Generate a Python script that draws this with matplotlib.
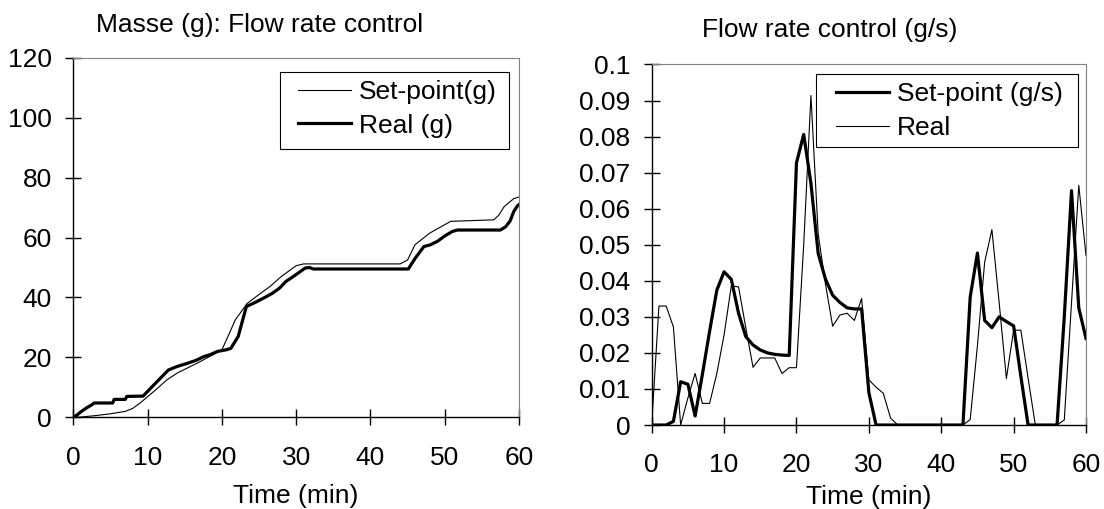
import matplotlib
matplotlib.use('Agg')
import matplotlib.pyplot as plt
from matplotlib.patches import Rectangle

plt.rcParams['font.family'] = ['Liberation Sans', 'DejaVu Sans']

# left chart: mass (g)
t_sp_mass = [0, 1, 3, 5, 7, 8, 9, 10, 11, 12.6, 14, 15.3, 17, 18.5, 20, 21, 21.8, 23.4,
             25, 26.5, 28, 30, 31, 44, 45, 46, 48, 50.8, 56.6, 57.3, 58, 59.3, 60]
sp_mass = [0, 0.1, 0.6, 1.2, 2, 3, 4.8, 6.9, 9, 12.5, 14.8, 16.4, 18.5, 20.5, 22.5, 28, 32.5, 38,
           41, 43.7, 47, 50.6, 51.2, 51.2, 52.5, 57.6, 61.5, 65.4, 65.9, 67.5, 70.3, 73, 73.5]

t_real_mass = [0, 0.5, 1, 1.5, 2, 2.5, 2.8, 5.3, 5.5, 7.0, 7.2, 9.4, 10.4, 11.5, 12.8, 14, 15.3,
               16.5, 17.6, 18.5, 19.4, 20.5, 21.2, 22.2, 23.3, 24.2, 25, 26, 26.8, 27.8, 28.6,
               29.5, 30.6, 31.2, 31.8, 32.3, 45.1, 46, 47.2, 48, 49, 50, 51, 51.7, 57.5, 58.2,
               58.8, 59.3, 59.8, 60]
real_mass = [0, 0.8, 1.8, 2.7, 3.5, 4.2, 4.8, 4.8, 6, 6, 7, 7.1, 9.7, 12.5, 15.8, 17, 18, 19,
             20.3, 21, 22, 22.5, 23, 27, 37, 38, 39, 40.3, 41.4, 43.2, 45.3, 46.8, 48.7, 49.8,
             50, 49.5, 49.5, 53, 57, 57.5, 58.7, 60.5, 62, 62.5, 62.5, 63.6, 65.5, 68.7, 70.6, 71]

# right chart: flow rate (g/s), one sample per minute
t_flow = list(range(61))
sp_flow = [0, 0, 0, 0.001, 0.012, 0.0113, 0.0025, 0.014, 0.026, 0.0374,
           0.0425, 0.0404, 0.031, 0.0245, 0.0222, 0.0208, 0.020, 0.0196, 0.0194, 0.0193,
           0.0727, 0.0806, 0.067, 0.0476, 0.0405, 0.036, 0.034, 0.0325, 0.0322, 0.0322,
           0.009, 0, 0, 0, 0, 0, 0, 0, 0, 0,
           0, 0, 0, 0, 0.0355, 0.0477, 0.029, 0.027, 0.030, 0.0287,
           0.0275, 0.0135, 0, 0, 0, 0, 0, 0.03, 0.065, 0.0325,
           0.024]
real_flow = [0, 0.033, 0.033, 0.0272, 0, 0.0075, 0.0143, 0.006, 0.006, 0.0143,
             0.025, 0.0386, 0.0383, 0.027, 0.016, 0.0186, 0.0186, 0.0186, 0.0143, 0.0159,
             0.0159, 0.05, 0.0914, 0.053, 0.0392, 0.0274, 0.0305, 0.031, 0.029, 0.0351,
             0.0125, 0.0105, 0.0088, 0.0019, 0, 0, 0, 0, 0, 0,
             0, 0, 0, 0, 0.0015, 0.022, 0.0452, 0.0542, 0.034, 0.0129,
             0.0263, 0.0263, 0.013, 0, 0, 0, 0, 0.0014, 0.034, 0.0665,
             0.047]

fs = 19
thin = 0.8
thick = 2.3

fig = plt.figure(figsize=(11.04, 5.09), dpi=100)
ax1 = fig.add_axes([0.0664, 0.1800, 0.4037, 0.7067])
ax2 = fig.add_axes([0.5903, 0.1650, 0.3934, 0.7083])


def style_axes(ax):
    for s in ['left', 'bottom']:
        ax.spines[s].set_color('black')
        ax.spines[s].set_linewidth(1.0)
    for s in ['top', 'right']:
        ax.spines[s].set_color('#808080')
        ax.spines[s].set_linewidth(0.8)
    ax.tick_params(direction='inout', length=11, width=1.0, labelsize=fs,
                   top=False, right=False)
    ax.tick_params(axis='x', pad=15)
    ax.tick_params(axis='y', pad=10)


def boxed_legend(ax, box, anchor):
    # box drawn separately so the padding can differ left/right vs top/bottom
    x0, y0, x1, y1 = box
    ax.add_patch(Rectangle((x0, y0), x1 - x0, y1 - y0, transform=ax.transAxes,
                           facecolor='white', edgecolor='black', lw=0.8, zorder=4))
    leg = ax.legend(loc='upper left', bbox_to_anchor=anchor, borderaxespad=0,
                    borderpad=0, fontsize=fs, frameon=False, handlelength=2.0,
                    handletextpad=0.3, labelspacing=0.37)
    leg.set_zorder(5)
    return leg


ax1.plot(t_sp_mass, sp_mass, color='black', lw=thin, label='Set-point(g)')
ax1.plot(t_real_mass, real_mass, color='black', lw=thick, label='Real (g)')
ax1.set_xlim(0, 60)
ax1.set_ylim(0, 120)
ax1.set_xticks(range(0, 61, 10))
ax1.set_yticks(range(0, 121, 20))
style_axes(ax1)
ax1.set_xlabel('Time (min)', fontsize=fs, labelpad=10)
boxed_legend(ax1, (0.4638, 0.7462, 0.9776, 0.9603), (0.5042, 0.938))

ax2.plot(t_flow, sp_flow, color='black', lw=thick, label='Set-point (g/s)')
ax2.plot(t_flow, real_flow, color='black', lw=thin, label='Real')
ax2.set_xlim(0, 60)
ax2.set_ylim(0, 0.1)
ax2.set_xticks(range(0, 61, 10))
yt = [i / 100 for i in range(11)]
ax2.set_yticks(yt)
ax2.set_yticklabels(['0', '0.01', '0.02', '0.03', '0.04', '0.05', '0.06', '0.07',
                     '0.08', '0.09', '0.1'])
style_axes(ax2)
ax2.set_xlabel('Time (min)', fontsize=fs, labelpad=5.5)
boxed_legend(ax2, (0.3783, 0.7712, 0.9816, 0.9736), (0.4244, 0.951))

fig.text(259.7 / 1104, 1 - 32 / 509, 'Masse (g): Flow rate control', fontsize=fs,
         ha='center', va='baseline')
fig.text(829.5 / 1104, 1 - 36.7 / 509, 'Flow rate control (g/s)', fontsize=fs,
         ha='center', va='baseline')

fig.savefig('out.png', dpi=100)
